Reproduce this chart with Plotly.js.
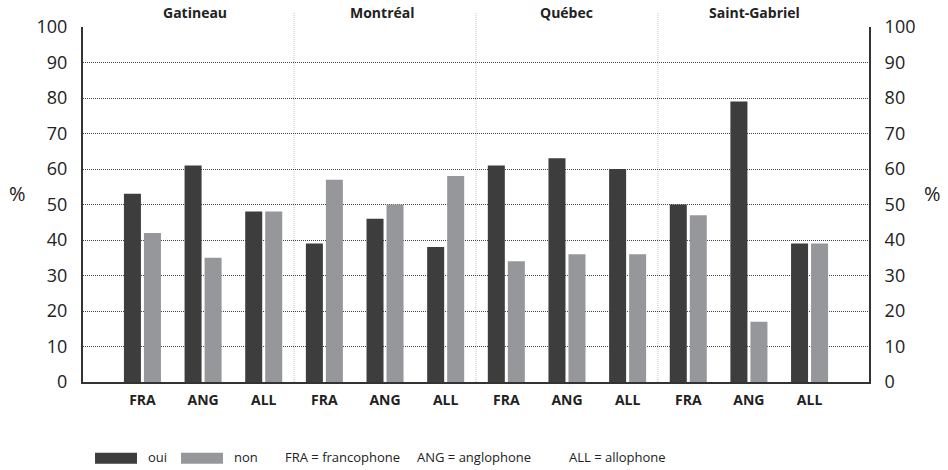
<!DOCTYPE html>
<html>
<head>
<meta charset="utf-8">
<script src="https://cdn.plot.ly/plotly-3.0.1.min.js"></script>
<style>html,body{margin:0;padding:0;background:#fff;}#chart{width:948px;height:470px;}</style>
</head>
<body>
<div id="chart"></div>
<script>
// ---- data ----
var cities = ["Gatineau", "Montréal", "Québec", "Saint-Gabriel"];
var groups = ["FRA", "ANG", "ALL"];
var tickLabels = ["FRA","ANG","ALL","FRA","ANG","ALL","FRA","ANG","ALL","FRA","ANG","ALL"];
var oui = [53, 61, 48, 39, 46, 38, 61, 63, 60, 50, 79, 39];
var non = [42, 35, 48, 57, 50, 58, 34, 36, 36, 47, 17, 39];
var seriesNames = ["oui", "non"];
var legendNotes = ["FRA = francophone", "ANG = anglophone", "ALL = allophone"];
var yTicks = [0,10,20,30,40,50,60,70,80,90,100];

var xIdx = tickLabels.map(function(_, i){ return i; });
var colOui = "#3d3d3d", colNon = "#96979a";
var font = "Open Sans, Noto Sans, sans-serif";

var traces = [
  {type:"bar", x:xIdx, y:oui, name:seriesNames[0], marker:{color:colOui}, showlegend:false, hoverinfo:"y"},
  {type:"bar", x:xIdx, y:non, name:seriesNames[1], marker:{color:colNon}, showlegend:false, hoverinfo:"y"},
  {type:"scatter", x:[0], y:[0], yaxis:"y2", mode:"markers", marker:{opacity:0}, showlegend:false, hoverinfo:"skip"}
];

var shapes = [];
for (var c = 1; c < cities.length; c++) {
  var sx = c * groups.length - 0.5;
  shapes.push({type:"line", xref:"x", yref:"paper", x0:sx, x1:sx, y0:0, y1:1.04,
    line:{color:"#c4c4c4", width:1, dash:"1px,1px"}, layer:"below"});
}
shapes.push({type:"rect", xref:"paper", yref:"paper", x0:0.0153, x1:0.0687, y0:-0.199, y1:-0.230, fillcolor:colOui, line:{width:0}});
shapes.push({type:"rect", xref:"paper", yref:"paper", x0:0.1247, x1:0.1781, y0:-0.199, y1:-0.230, fillcolor:colNon, line:{width:0}});

var annotations = [];
var titleShift = [-8, -3, 0, 6];
cities.forEach(function(name, i){
  annotations.push({text:"<b>"+name+"</b>", xref:"x", yref:"paper", x:i*groups.length+1, y:1.04, xshift:titleShift[i],
    xanchor:"center", yanchor:"middle", showarrow:false, font:{family:font, size:14, color:"#222"}});
});
annotations.push({text:"%", xref:"paper", yref:"paper", x:-0.083, y:0.532, xanchor:"center", yanchor:"middle", showarrow:false, font:{family:font, size:20, color:"#222"}});
annotations.push({text:"%", xref:"paper", yref:"paper", x:1.081, y:0.532, xanchor:"center", yanchor:"middle", showarrow:false, font:{family:font, size:20, color:"#222"}});
var legX = [0.0801, 0.1896];
seriesNames.forEach(function(n, i){
  annotations.push({text:n, xref:"paper", yref:"paper", x:legX[i], y:-0.212, xanchor:"left", yanchor:"middle", showarrow:false, font:{family:font, size:13, color:"#222"}});
});
var noteX = [0.2545, 0.4224, 0.6158];
legendNotes.forEach(function(n, i){
  annotations.push({text:n, xref:"paper", yref:"paper", x:noteX[i], y:-0.212, xanchor:"left", yanchor:"middle", showarrow:false, font:{family:font, size:13, color:"#222"}});
});

var yCommon = {
  range:[0,100], tickvals:yTicks, ticks:"", showline:true, linecolor:"#333", linewidth:2,
  tickfont:{family:font, size:18, color:"#222"}, ticklabelstandoff:10, fixedrange:true
};

var layout = {
  width:948, height:470,
  margin:{l:83, r:79, t:27, b:88, pad:0},
  paper_bgcolor:"#fff", plot_bgcolor:"#fff",
  barmode:"group", bargap:0.34, bargroupgap:0.15,
  xaxis:{range:[-0.98, 11.98], tickvals:xIdx, ticktext:tickLabels, ticks:"", showgrid:false, zeroline:false,
    showline:true, linecolor:"#333", linewidth:2, tickfont:{family:font, size:14, color:"#222", weight:"bold"},
    ticklabelstandoff:4, fixedrange:true},
  yaxis:Object.assign({}, yCommon, {side:"left", showgrid:true, gridcolor:"#444", gridwidth:1, griddash:"1px,1px", zeroline:false}),
  yaxis2:Object.assign({}, yCommon, {side:"right", overlaying:"y", showgrid:false, zeroline:false}),
  shapes:shapes,
  annotations:annotations,
  showlegend:false
};

Plotly.newPlot("chart", traces, layout, {displayModeBar:false, staticPlot:true});
</script>
</body>
</html>
